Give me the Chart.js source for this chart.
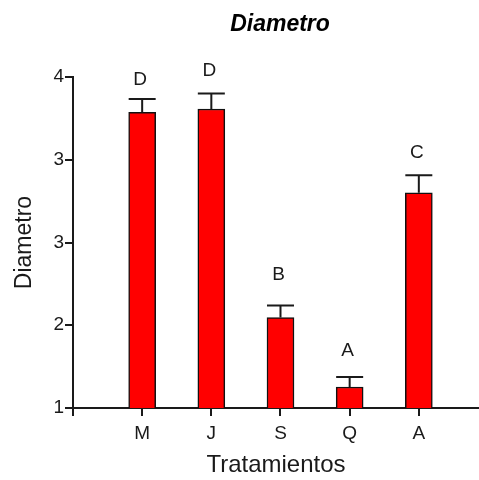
<!DOCTYPE html>
<html>
<head>
<meta charset="utf-8">
<script src="https://cdn.jsdelivr.net/npm/chart.js@4"></script>
<style>
  html, body { margin: 0; padding: 0; background: #fff; }
  #wrap { width: 479px; height: 480px; }
</style>
</head>
<body>
<div id="wrap"><canvas id="chart" width="479" height="480"></canvas></div>
<script>
// ─── DATA ────────────────────────────────────────────
const categories = ['M', 'J', 'S', 'Q', 'A'];
const means      = [3.68, 3.71, 1.82, 1.19, 2.95];
const errors     = [0.12, 0.14, 0.11, 0.09, 0.16];
const letters    = ['D', 'D', 'B', 'A', 'C'];
const letterAt   = [3.98, 4.07, 2.22, 1.53, 3.32];   // value where each letter sits
const yTicks     = [1, 1.75, 2.5, 3.25, 4];
const xTicks     = [0, 1, 2, 3, 4, 5];

const FONT = "'Liberation Sans', Arial, sans-serif";
const INK  = '#1a1a1a';

// error bars + group letters + title
const extras = {
    id: 'extras',
    afterDatasetsDraw(chart) {
        const { ctx, scales: { x, y }, chartArea } = chart;
        ctx.save();
        ctx.strokeStyle = INK;
        ctx.lineWidth = 2;
        means.forEach((m, i) => {
            const cx  = x.getPixelForValue(i + 1);
            const top = y.getPixelForValue(m);
            const end = y.getPixelForValue(m + errors[i]);
            ctx.beginPath();
            ctx.moveTo(cx, top);
            ctx.lineTo(cx, end);
            ctx.moveTo(cx - 13.5, end);
            ctx.lineTo(cx + 13.5, end);
            ctx.stroke();
        });

        ctx.fillStyle = INK;
        ctx.font = `19px ${FONT}`;
        ctx.textAlign = 'center';
        ctx.textBaseline = 'middle';
        letters.forEach((l, i) => {
            ctx.fillText(l, x.getPixelForValue(i + 1) - 2, y.getPixelForValue(letterAt[i]) + 1);
        });

        ctx.font = `bold italic 23px ${FONT}`;
        ctx.fillStyle = '#000';
        ctx.fillText('Diametro', (chartArea.left + chartArea.right) / 2 + 4, 25);
        ctx.restore();
    },
};

new Chart(document.getElementById('chart'), {
    type: 'bar',
    data: {
        datasets: [{
            data: means.map((m, i) => ({ x: i + 1, y: m })),
            backgroundColor: '#ff0000',
            borderColor: '#111',
            borderWidth: 1.5,
            borderSkipped: false,
            barThickness: 27,
        }],
    },
    options: {
        responsive: false,
        animation: false,
        layout: { padding: { top: 77, right: 0, left: 0, bottom: 0 } },
        plugins: {
            legend: { display: false },
            tooltip: { enabled: false },
        },
        scales: {
            x: {
                type: 'linear',
                min: 0,
                max: 5.87,
                offset: false,
                afterBuildTicks: s => { s.ticks = xTicks.map(v => ({ value: v })); },
                afterFit: s => { s.height = 72; },
                ticks: {
                    color: INK,
                    font: { family: FONT, size: 19 },
                    padding: 6,
                    maxRotation: 0,
                    autoSkip: false,
                    callback: v => categories[v - 1] || '',
                },
                grid: { offset: false, drawOnChartArea: false, drawTicks: true, tickLength: 8, color: INK, lineWidth: 2 },
                border: { display: true, color: INK, width: 2 },
                title: {
                    display: true,
                    text: 'Tratamientos',
                    color: INK,
                    font: { family: FONT, size: 24 },
                    padding: { top: 0, bottom: 0 },
                },
            },
            y: {
                min: 1,
                max: 4,
                afterBuildTicks: s => { s.ticks = yTicks.map(v => ({ value: v })); },
                afterFit: s => { s.width = 73; },
                ticks: {
                    color: INK,
                    font: { family: FONT, size: 19 },
                    padding: 1,
                    callback: v => Math.round(v),
                },
                grid: { drawOnChartArea: false, drawTicks: true, tickLength: 8, color: INK, lineWidth: 2 },
                border: { display: true, color: INK, width: 2 },
                title: {
                    display: true,
                    text: 'Diametro',
                    color: INK,
                    font: { family: FONT, size: 23 },
                    padding: { top: 11, bottom: 0 },
                },
            },
        },
    },
    plugins: [extras],
});
</script>
</body>
</html>
